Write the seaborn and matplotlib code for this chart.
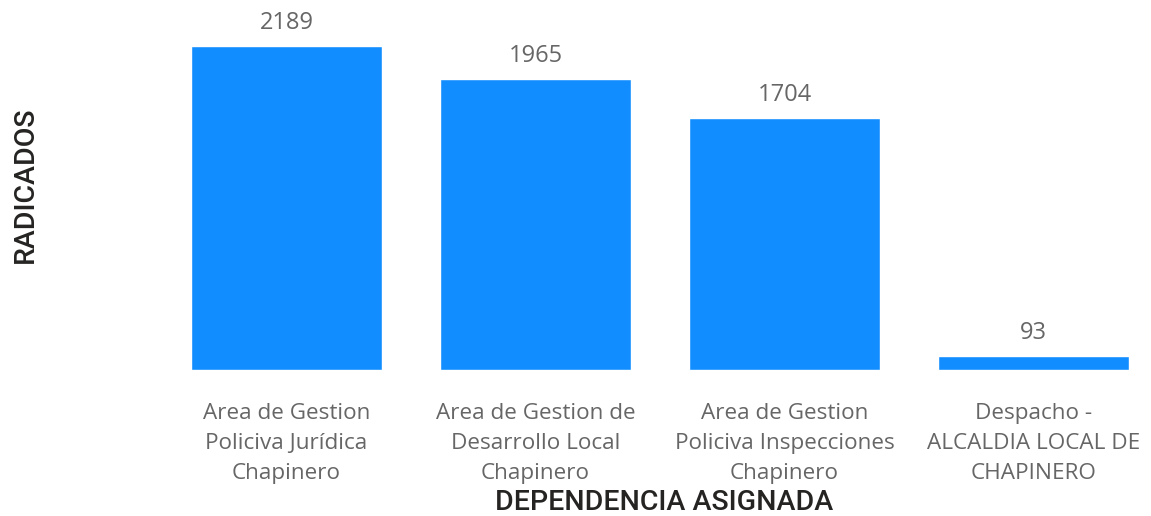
import matplotlib
matplotlib.use("Agg")
import matplotlib.pyplot as plt
import seaborn as sns
import pandas as pd

# ---------------- DATA ------------------
categories = [
    "Area de Gestion\nPoliciva Jurídica\nChapinero",
    "Area de Gestion de\nDesarrollo Local\nChapinero",
    "Area de Gestion\nPoliciva Inspecciones\nChapinero",
    "Despacho -\nALCALDIA LOCAL DE\nCHAPINERO",
]
radicados = [2189, 1965, 1704, 93]

BAR_COLOR = "#118DFF"
TEXT_GRAY = "#666666"
TITLE_COLOR = "#252423"

df = pd.DataFrame({"dependencia": categories, "radicados": radicados})

sns.set_theme(style="white")
plt.rcParams["font.family"] = ["Open Sans", "DejaVu Sans"]

W, H = 1151, 516
fig = plt.figure(figsize=(W / 100, H / 100), dpi=100)
# axes in pixel terms: x 170..1140, y baseline at 370 px from top up to top edge
ax = fig.add_axes([170 / W, (H - 370) / H, (1140 - 170) / W, 370 / H])

sns.barplot(data=df, x="dependencia", y="radicados", color=BAR_COLOR,
            width=0.767, saturation=1, ax=ax)

ax.set_xlim(-0.468, 3.428)
ax.set_ylim(0, 2500)

for i, v in enumerate(radicados):
    ax.annotate(f"{v}", (i, v), xytext=(0, 8), textcoords="offset points",
                ha="center", va="bottom", fontsize=17, color=TEXT_GRAY)

ax.set_yticks([])
ax.tick_params(axis="x", length=0, pad=23.5, labelsize=16.2, labelcolor=TEXT_GRAY)
for lbl in ax.get_xticklabels():
    lbl.set_linespacing(1.57)
sns.despine(ax=ax, left=True, bottom=True, top=True, right=True)

ax.set_xlabel("DEPENDENCIA ASIGNADA", fontsize=20.5, color=TITLE_COLOR,
              family=["Roboto", "DejaVu Sans"], fontweight="medium")
ax.set_ylabel("RADICADOS", fontsize=20.5, color=TITLE_COLOR,
              family=["Roboto", "DejaVu Sans"], fontweight="medium")
ax.xaxis.set_label_coords((664 - 170) / (1140 - 170), -(503 - 370) / 370)
ax.yaxis.set_label_coords(-(170 - 25) / (1140 - 170), (370 - 185) / 370)
ax.xaxis.label.set_va("center")
ax.yaxis.label.set_va("center")

fig.savefig("out.png", dpi=100)
